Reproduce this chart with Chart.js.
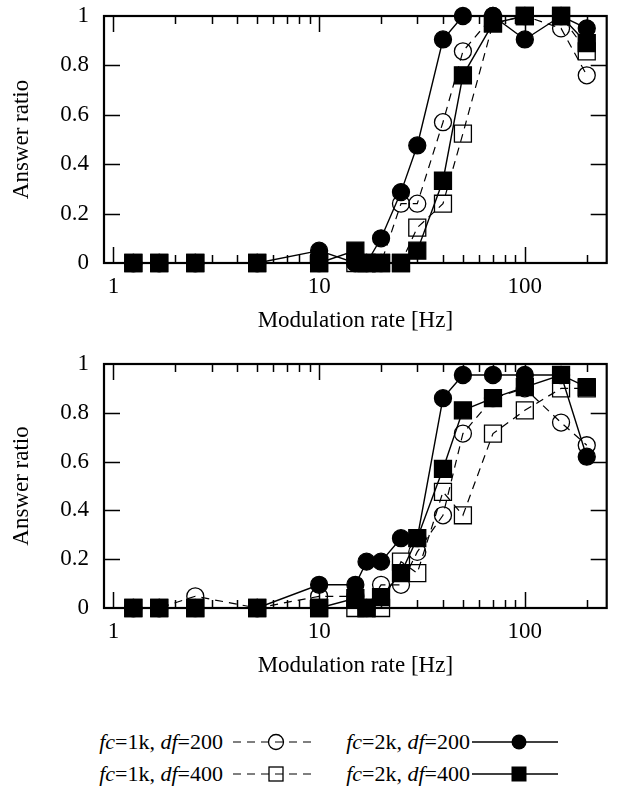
<!DOCTYPE html>
<html>
<head>
<meta charset="utf-8">
<script src="https://cdn.jsdelivr.net/npm/chart.js@4.4.1/dist/chart.umd.min.js"></script>
<style>
  body { margin: 0; background: #fff; width: 620px; height: 787px; position: relative; overflow: hidden; font-family: "Liberation Serif", serif; }
  .box { position: absolute; left: 0; width: 620px; }
  #topBox { top: 0; height: 340px; }
  #botBox { top: 340px; height: 345px; }
  .lg { position: absolute; font-size: 22px; line-height: 26px; white-space: nowrap; color: #000; }
  .lg i { font-style: italic; }
  .smp { position: absolute; overflow: visible; }
</style>
</head>
<body>
<div class="box" id="topBox"><canvas id="topChart"></canvas></div>
<div class="box" id="botBox"><canvas id="bottomChart"></canvas></div>

<!-- legend -->
<div class="lg" style="right:397px; top:729px"><i>fc</i>=1k, <i>df</i>=200</div>
<svg class="smp" style="left:233px; top:732px" width="80" height="20">
  <line x1="0" y1="10" x2="80" y2="10" stroke="#000" stroke-width="1.2" stroke-dasharray="8,6"/>
  <circle cx="43" cy="10" r="7.5" fill="none" stroke="#000" stroke-width="1.3"/>
</svg>
<div class="lg" style="right:150px; top:729px"><i>fc</i>=2k, <i>df</i>=200</div>
<svg class="smp" style="left:472px; top:732px" width="86" height="20">
  <line x1="0" y1="10" x2="86" y2="10" stroke="#000" stroke-width="1.4"/>
  <circle cx="47" cy="10" r="7.5" fill="#000"/>
</svg>
<div class="lg" style="right:397px; top:761px"><i>fc</i>=1k, <i>df</i>=400</div>
<svg class="smp" style="left:233px; top:764px" width="80" height="20">
  <line x1="0" y1="10" x2="80" y2="10" stroke="#000" stroke-width="1.2" stroke-dasharray="8,6"/>
  <rect x="36" y="3" width="14" height="14" fill="none" stroke="#000" stroke-width="1.3"/>
</svg>
<div class="lg" style="right:150px; top:761px"><i>fc</i>=2k, <i>df</i>=400</div>
<svg class="smp" style="left:472px; top:764px" width="86" height="20">
  <line x1="0" y1="10" x2="86" y2="10" stroke="#000" stroke-width="1.4"/>
  <rect x="39.5" y="2.5" width="15" height="15" fill="#000"/>
</svg>

<script>
// modulation rates (Hz)
const rates = [1.25, 1.67, 2.5, 5, 10, 15, 17, 20, 25, 30, 40, 50, 70, 100, 150, 200];
const xLabelTicks = [1, 10, 100];
const xMinorTicks = [2, 3, 4, 5, 6, 7, 8, 9, 20, 30, 40, 50, 60, 70, 80, 90, 200];
const yTicks = [0, 0.2, 0.4, 0.6, 0.8, 1];

// upper panel
const top1k200 = [0, 0, 0, 0, 0, 0, 0, 0, 0.24, 0.24, 0.57, 0.857, 1, 1, 0.95, 0.76];
const top1k400 = [0, 0, 0, 0, 0, 0, 0, 0, 0, 0.143, 0.24, 0.524, 0.97, 1, 1, 0.857];
const top2k200 = [0, 0, 0, 0, 0.05, 0, 0, 0.1, 0.287, 0.476, 0.905, 1, 1, 0.905, 1, 0.95];
const top2k400 = [0, 0, 0, 0, 0, 0.05, 0, 0, 0, 0.05, 0.333, 0.76, 0.97, 1, 1, 0.89];

// lower panel
const bot1k200 = [0, 0, 0.048, 0, 0.048, 0.048, 0, 0.095, 0.095, 0.23, 0.38, 0.715, 0.86, 0.9, 0.76, 0.667];
const bot1k400 = [0, 0, 0, 0, 0, 0, 0, 0, 0.19, 0.143, 0.476, 0.38, 0.715, 0.81, 0.9, 0.9];
const bot2k200 = [0, 0, 0, 0, 0.095, 0.095, 0.19, 0.19, 0.286, 0.286, 0.86, 0.955, 0.955, 0.955, 0.955, 0.62];
const bot2k400 = [0, 0, 0, 0, 0, 0.04, 0, 0.045, 0.143, 0.286, 0.57, 0.81, 0.86, 0.905, 0.955, 0.905];

const axisFont = { family: '"Liberation Serif", serif', size: 23 };

// frame + inward ticks like gnuplot
const frameTicks = {
  id: 'frameTicks',
  beforeDatasetsDraw(chart) {
    const { ctx, chartArea: a, scales: { x, y } } = chart;
    ctx.save();
    ctx.strokeStyle = '#000';
    ctx.lineWidth = 1.5;
    ctx.beginPath();
    xLabelTicks.forEach(v => {
      const px = Math.round(x.getPixelForValue(v)) + 0.5;
      ctx.moveTo(px, a.bottom); ctx.lineTo(px, a.bottom - 16);
      ctx.moveTo(px, a.top); ctx.lineTo(px, a.top + 16);
    });
    xMinorTicks.forEach(v => {
      const px = Math.round(x.getPixelForValue(v)) + 0.5;
      ctx.moveTo(px, a.bottom); ctx.lineTo(px, a.bottom - 8);
      ctx.moveTo(px, a.top); ctx.lineTo(px, a.top + 8);
    });
    yTicks.slice(1, -1).forEach(v => {
      const py = Math.round(y.getPixelForValue(v)) + 0.5;
      ctx.moveTo(a.left, py); ctx.lineTo(a.left + 16, py);
      ctx.moveTo(a.right, py); ctx.lineTo(a.right - 16, py);
    });
    ctx.stroke();
    ctx.lineWidth = 2.2;
    ctx.strokeRect(a.left, a.top, a.right - a.left, a.bottom - a.top);
    ctx.restore();
  }
};

function noPad(s) {
  s.paddingTop = 0; s.paddingBottom = 0; s.paddingLeft = 0; s.paddingRight = 0;
}

function series(label, values, open, shape, order) {
  return {
    label: label,
    data: rates.map((r, i) => ({ x: r, y: values[i] })),
    borderColor: '#000',
    borderWidth: open ? 1.2 : 1.4,
    borderDash: open ? [8, 6] : [],
    pointStyle: shape,
    pointRadius: shape === 'rect' ? 12 : 8.5,
    pointBorderWidth: 1.3,
    pointBorderColor: '#000',
    pointBackgroundColor: open ? 'rgba(0,0,0,0)' : '#000',
    tension: 0,
    clip: false,
    order: order
  };
}

function makeChart(id, a1k200, a1k400, a2k200, a2k400, padTop) {
  const ctx = document.getElementById(id).getContext('2d');
  return new Chart(ctx, {
    type: 'line',
    data: {
      datasets: [
        series('fc=2k, df=400', a2k400, false, 'rect', 0),
        series('fc=2k, df=200', a2k200, false, 'circle', 1),
        series('fc=1k, df=400', a1k400, true, 'rect', 2),
        series('fc=1k, df=200', a1k200, true, 'circle', 3)
      ]
    },
    options: {
      responsive: true,
      maintainAspectRatio: false,
      animation: false,
      layout: { padding: { top: padTop, right: 5, left: 0, bottom: 0 } },
      plugins: { legend: { display: false }, tooltip: { enabled: false } },
      scales: {
        x: {
          type: 'logarithmic',
          min: 0.9,
          max: 250,
          afterBuildTicks: s => { s.ticks = xLabelTicks.map(v => ({ value: v })); },
          afterFit: s => { s.height = 77; noPad(s); },
          grid: { display: false, drawTicks: false },
          border: { display: false },
          ticks: { font: axisFont, color: '#000', padding: 10, autoSkip: false, maxRotation: 0, callback: v => String(v) },
          title: { display: true, text: 'Modulation rate [Hz]', font: axisFont, color: '#000', padding: { top: 0, bottom: 5 } }
        },
        y: {
          min: 0,
          max: 1,
          afterBuildTicks: s => { s.ticks = yTicks.map(v => ({ value: v })); },
          afterFit: s => { s.width = 104; noPad(s); },
          grid: { display: false, drawTicks: false },
          border: { display: false },
          ticks: { font: axisFont, color: '#000', padding: 15, callback: v => String(v) },
          title: { display: true, text: 'Answer ratio', font: axisFont, color: '#000', padding: { top: 8, bottom: 0 } }
        }
      }
    },
    plugins: [frameTicks]
  });
}

makeChart('topChart', top1k200, top1k400, top2k200, top2k400, 16);
makeChart('bottomChart', bot1k200, bot1k400, bot2k200, bot2k400, 24);
</script>
</body>
</html>
